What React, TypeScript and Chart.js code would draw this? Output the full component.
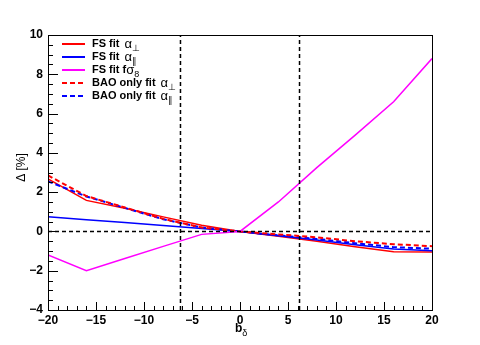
import React, { useEffect, useRef } from "react";
import { Chart, registerables } from "chart.js";

Chart.register(...registerables);

const xs = [-20, -16, -12, -8, -4, 0, 4, 8, 12, 16, 20];
const fsAlphaPerp = [2.68, 1.58, 1.18, 0.74, 0.32, 0, -0.25, -0.5, -0.78, -1.03, -1.05];
const fsAlphaPar = [0.75, 0.6, 0.45, 0.3, 0.15, 0, -0.22, -0.44, -0.68, -0.9, -0.98];
const fsFSigma8 = [-1.2, -2.0, -1.38, -0.76, -0.15, 0, 1.5, 3.25, 4.9, 6.6, 8.8];
const baoAlphaPerp = [2.85, 1.8, 1.22, 0.64, 0.2, 0, -0.15, -0.3, -0.5, -0.65, -0.75];
const baoAlphaPar = [2.55, 1.78, 1.2, 0.62, 0.2, 0, -0.2, -0.38, -0.6, -0.8, -0.88];
const vLines = [-6.2, 6.2];
const hLine = 0;
const xRange = [-20, 20];
const yRange = [-4, 10];

const legendEntries = [
  { main: "FS fit ", greek: "\u03b1", sub: "\u22a5", color: "#ff0000", dash: [] as number[] },
  { main: "FS fit ", greek: "\u03b1", sub: "\u2225", color: "#0000ff", dash: [] as number[] },
  { main: "FS fit f", greek: "\u03c3", sub: "8", color: "#ff00ff", dash: [] as number[] },
  { main: "BAO only fit ", greek: "\u03b1", sub: "\u22a5", color: "#ff0000", dash: [5, 3] },
  { main: "BAO only fit ", greek: "\u03b1", sub: "\u2225", color: "#0000ff", dash: [5, 3] },
];

const FONT = "'Liberation Sans', Arial, Helvetica, sans-serif";

const pts = (ys: number[]) => xs.map((x, i) => ({ x, y: ys[i] }));

const decorPlugin = {
  id: "decor",
  afterDraw(chart: any) {
    const ctx = chart.ctx as CanvasRenderingContext2D;
    const { left, right, top, bottom } = chart.chartArea;
    const sx = chart.scales.x;
    const sy = chart.scales.y;
    ctx.save();
    ctx.strokeStyle = "#000";
    ctx.lineWidth = 1;
    ctx.setLineDash([]);
    ctx.strokeRect(left + 0.5, top + 0.5, right - left, bottom - top);
    ctx.beginPath();
    for (let v = yRange[0]; v <= yRange[1] + 1e-9; v += 0.5) {
      const p = Math.round(sy.getPixelForValue(v)) + 0.5;
      const major = Math.abs(v / 2 - Math.round(v / 2)) < 1e-6;
      const len = major ? 10 : 5;
      ctx.moveTo(left, p);
      ctx.lineTo(left + len, p);
    }
    for (let v = xRange[0]; v <= xRange[1] + 1e-9; v += 1) {
      const p = Math.round(sx.getPixelForValue(v)) + 0.5;
      const major = v % 5 === 0;
      const len = major ? 8 : 4;
      ctx.moveTo(p, bottom);
      ctx.lineTo(p, bottom - len);
    }
    ctx.stroke();

    ctx.fillStyle = "#000";
    ctx.textBaseline = "middle";
    ctx.font = `bold 12px ${FONT}`;
    ctx.textAlign = "left";
    const cx = (left + right) / 2;
    const bw = ctx.measureText("b").width;
    ctx.fillText("b", cx - 5, 329);
    ctx.font = `9px ${FONT}`;
    ctx.fillText("\u03b4", cx - 5 + bw, 334);
    ctx.save();
    ctx.translate(22, (top + bottom) / 2 - 5);
    ctx.rotate(-Math.PI / 2);
    ctx.textAlign = "center";
    ctx.font = `12px ${FONT}`;
    ctx.fillText("\u0394 [%]", 0, 0);
    ctx.restore();

    const rowY = [44, 57, 70, 83, 96];
    legendEntries.forEach((e, i) => {
      const y = rowY[i];
      ctx.strokeStyle = e.color;
      ctx.lineWidth = 2;
      ctx.setLineDash(e.dash);
      ctx.beginPath();
      ctx.moveTo(62, y);
      ctx.lineTo(85, y);
      ctx.stroke();
      ctx.setLineDash([]);
      ctx.fillStyle = "#000";
      ctx.textAlign = "left";
      ctx.textBaseline = "middle";
      let x = 92;
      ctx.font = `bold 11px ${FONT}`;
      ctx.fillText(e.main, x, y);
      x += ctx.measureText(e.main).width + (e.greek === "\u03b1" ? 2 : 0);
      ctx.font = `13px ${FONT}`;
      ctx.fillText(e.greek, x, y);
      x += ctx.measureText(e.greek).width;
      ctx.font = `9px ${FONT}`;
      ctx.fillText(e.sub, x, y + 5);
    });
    ctx.restore();
  },
};

export default function App() {
  const ref = useRef<HTMLCanvasElement | null>(null);
  useEffect(() => {
    if (!ref.current) return;
    const refStyle = {
      borderColor: "#000",
      borderWidth: 1.5,
      borderDash: [4, 3],
      pointRadius: 0,
      fill: false,
    };
    const chart = new Chart(ref.current, {
      type: "line",
      data: {
        datasets: [
          { ...refStyle, data: [{ x: xRange[0], y: hLine }, { x: xRange[1], y: hLine }] },
          ...vLines.map((v) => ({ ...refStyle, data: [{ x: v, y: yRange[0] }, { x: v, y: yRange[1] }] })),
          { data: pts(fsFSigma8), borderColor: "#ff00ff", borderWidth: 1.5, pointRadius: 0 },
          { data: pts(baoAlphaPerp), borderColor: "#ff0000", borderWidth: 2, borderDash: [5, 3], pointRadius: 0 },
          { data: pts(baoAlphaPar), borderColor: "#0000ff", borderWidth: 2, borderDash: [5, 3], pointRadius: 0 },
          { data: pts(fsAlphaPar), borderColor: "#0000ff", borderWidth: 1.5, pointRadius: 0 },
          { data: pts(fsAlphaPerp), borderColor: "#ff0000", borderWidth: 1.5, pointRadius: 0 },
        ] as any,
      },
      options: {
        animation: false,
        responsive: false,
        layout: { padding: { top: 35, right: 48, left: 0, bottom: 0 } },
        plugins: { legend: { display: false }, tooltip: { enabled: false } },
        elements: { line: { tension: 0 } },
        scales: {
          x: {
            type: "linear",
            min: xRange[0],
            max: xRange[1],
            grid: { display: false, drawTicks: false },
            border: { display: false },
            afterFit: (s: any) => { s.height = 35; },
            ticks: {
              stepSize: 5,
              padding: 3,
              color: "#000",
              font: { family: FONT, size: 12, weight: "bold" },
              maxRotation: 0,
              callback: (v: any) => (v < 0 ? "\u2212" + Math.abs(v) : String(v)),
            },
          },
          y: {
            type: "linear",
            min: yRange[0],
            max: yRange[1],
            grid: { display: false, drawTicks: false },
            border: { display: false },
            afterFit: (s: any) => { s.width = 48; },
            ticks: {
              stepSize: 2,
              padding: 5,
              color: "#000",
              font: { family: FONT, size: 12, weight: "bold" },
              callback: (v: any) => (v < 0 ? "\u2212" + Math.abs(v) : String(v)),
            },
          },
        },
      },
      plugins: [decorPlugin],
    });
    return () => chart.destroy();
  }, []);
  return (
    <div style={{ position: "absolute", left: 0, top: 0, width: 480, height: 345, background: "#fff" }}>
      <canvas ref={ref} width={480} height={345} />
    </div>
  );
}
